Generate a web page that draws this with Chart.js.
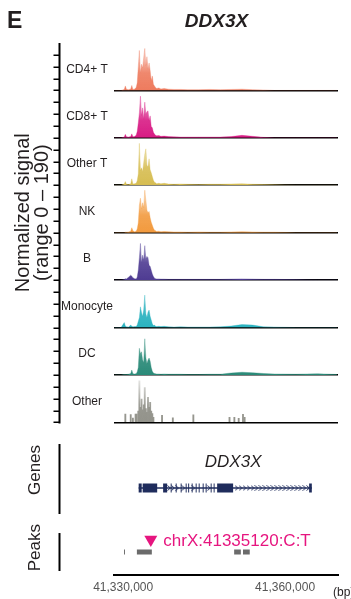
<!DOCTYPE html>
<html>
<head>
<meta charset="utf-8">
<script src="https://cdn.jsdelivr.net/npm/chart.js@4.4.1/dist/chart.umd.min.js"></script>
<style>
  html, body { margin: 0; padding: 0; background: #fff; }
  #wrap { width: 351px; height: 599px; }
</style>
</head>
<body>
<div id="wrap"><canvas id="trackChart" width="351" height="599"></canvas></div>
<script>
// ---- data ----
var geneName = "DDX3X";
var trackNames = ["CD4+ T", "CD8+ T", "Other T", "NK", "B", "Monocyte", "DC", "Other"];
var trackColors = ["#EE7B5E", "#D81B84", "#D6BD52", "#F29A3E", "#4E3B92", "#2BB3C0", "#2A8A78", "#93938B"];
var signalMax = 190;
var xTicks = [41330000, 41360000];

// coverage bins (bp)
var binPos = [
  41328400, 41329000, 41329600, 41330200, 41330400, 41330600, 41331000, 41331400, 41331600, 41331800, 41332100,
  41332400, 41332600, 41332800, 41333000, 41333200, 41333400, 41333600, 41333800, 41334000, 41334200,
  41334400, 41334600, 41334800, 41335000, 41335200, 41335400, 41335600, 41335800, 41336000, 41336200,
  41336600, 41337000, 41337600, 41338400, 41339400, 41340600, 41342000, 41344000, 41346000, 41348000,
  41350000, 41352000, 41354000, 41356000, 41358000, 41362000, 41366000, 41369600
];
var cd4Values = [0, 0, 0, 4, 18, 5, 3, 6, 20, 4, 5,
  12, 30, 95, 160, 70, 105, 90, 130, 168, 100, 135, 85, 110, 80, 40, 58, 25, 18, 12, 8,
  10, 6, 8, 5, 4, 4, 3, 3, 4, 3, 4, 5, 3, 2, 0, 0, 0, 0];
var cd8Values = [0, 0, 0, 3, 14, 4, 3, 5, 16, 4, 5,
  10, 25, 60, 100, 167, 90, 120, 75, 143, 95, 105, 108, 70, 88, 45, 40, 22, 15, 10, 8,
  9, 6, 7, 5, 4, 3, 3, 3, 3, 3, 5, 10, 6, 2, 0, 0, 0, 0];
var otherTValues = [0, 0, 0, 5, 15, 4, 3, 6, 26, 5, 6,
  8, 18, 45, 168, 60, 70, 55, 90, 124, 146, 80, 75, 106, 62, 50, 35, 20, 12, 10, 6,
  8, 6, 8, 5, 4, 5, 4, 3, 4, 4, 5, 6, 4, 3, 2, 0, 0, 0];
var nkValues = [0, 0, 0, 0, 2, 2, 3, 6, 20, 8, 4,
  6, 15, 40, 110, 138, 95, 120, 100, 170, 130, 90, 80, 85, 60, 42, 30, 18, 10, 8, 5,
  6, 4, 5, 4, 3, 3, 2, 3, 2, 2, 3, 4, 3, 2, 2, 0, 0, 0];
var bValues = [0, 0, 0, 3, 6, 5, 12, 20, 16, 10, 6,
  5, 12, 40, 90, 147, 70, 100, 80, 138, 85, 95, 90, 60, 55, 40, 25, 15, 8, 6, 5,
  5, 4, 4, 3, 3, 3, 3, 3, 3, 3, 4, 5, 4, 3, 3, 2, 0, 0];
var monoValues = [0, 0, 0, 20, 6, 3, 2, 10, 5, 3, 4,
  4, 10, 25, 40, 83, 60, 45, 70, 130, 55, 40, 62, 70, 45, 30, 15, 8, 10, 5, 4,
  5, 4, 5, 3, 2, 3, 2, 2, 2, 3, 6, 12, 10, 3, 2, 0, 0, 0];
var dcValues = [0, 0, 0, 2, 2, 2, 3, 6, 20, 5, 4,
  5, 12, 30, 107, 85, 93, 60, 50, 145, 70, 45, 60, 68, 55, 30, 15, 8, 6, 5, 4,
  4, 3, 4, 3, 3, 3, 2, 2, 3, 3, 8, 11, 9, 6, 4, 3, 5, 2];
// "Other" is sparse, so it has its own positions
var otherPos = [41330400, 41331400, 41331800, 41332300, 41332500, 41332800, 41333000, 41333200, 41333400, 41333600,
  41333800, 41334000, 41334200, 41334400, 41334600, 41334800, 41335000, 41335200, 41335400, 41335600,
  41337200, 41339200, 41343000, 41349700, 41350600, 41351400, 41352200, 41352500];
var otherValues = [33, 31, 17, 33, 33, 45, 167, 60, 93, 50,
  70, 140, 55, 40, 100, 60, 80, 45, 35, 20,
  28, 18, 30, 20, 20, 16, 32, 20];

// gene model
var geneStart = 41332870, geneEnd = 41364950;
var exonStarts = [41332870, 41333610, 41337400, 41338800, 41339730, 41340650, 41341580, 41342040, 41342690,
  41343430, 41343990, 41344730, 41345280, 41346210, 41346760, 41347410, 41364450];
var exonEnds = [41333430, 41336300, 41338150, 41338980, 41339910, 41340830, 41341760, 41342220, 41342870,
  41343610, 41344170, 41344910, 41345460, 41346390, 41346940, 41350370, 41364950];
var chevronPos = [41338500, 41339240, 41340000, 41341150, 41343000, 41345870, 41351000, 41351740, 41352480,
  41353220, 41353960, 41354700, 41355440, 41356180, 41356920, 41357660, 41358400, 41359140, 41359880,
  41360620, 41361360, 41362100, 41362840, 41363580, 41364250];

// peaks + variant
var peakStarts = [41330150, 41332540, 41350560, 41352200];
var peakEnds = [41330330, 41335310, 41351800, 41353450];
var variantPos = 41335120;
var variantLabel = "chrX:41335120:C:T";

var trackValues = [cd4Values, cd8Values, otherTValues, nkValues, bValues, monoValues, dcValues];

// ---- helpers ----
var FONT = '"Liberation Sans", Arial, Helvetica, sans-serif';
var navy = "#1F2C5C";
var pink = "#E6157F";

function rgba(hex, a) {
  var n = parseInt(hex.slice(1), 16);
  return "rgba(" + (n >> 16) + "," + ((n >> 8) & 255) + "," + (n & 255) + "," + a + ")";
}

function fade(chart, axisId, hex) {
  var s = chart.scales[axisId];
  if (!s || !chart.chartArea) return hex;
  var g = chart.ctx.createLinearGradient(0, s.getPixelForValue(0), 0, s.getPixelForValue(175));
  g.addColorStop(0, hex);
  g.addColorStop(0.4, rgba(hex, 0.9));
  g.addColorStop(1, rgba(hex, 0.2));
  return g;
}

function segments(starts, ends, level) {
  var out = [];
  for (var i = 0; i < starts.length; i++) {
    out.push({x: starts[i], y: level}, {x: ends[i], y: level}, {x: ends[i], y: null});
  }
  return out;
}

// little ">" glyph for the strand arrows
var chev = document.createElement("canvas");
chev.width = 4; chev.height = 6;
(function () {
  var c = chev.getContext("2d");
  c.strokeStyle = navy; c.lineWidth = 1;
  c.beginPath(); c.moveTo(0.5, 0.5); c.lineTo(3.3, 3); c.lineTo(0.5, 5.5); c.stroke();
})();

var geneLevel = 3.44, peakLevel = 4.37, variantLevel = 6.73;

// ---- scales ----
var scales = {
  x: {
    type: "linear", position: "bottom", min: 41328300, max: 41369800, offset: false,
    afterBuildTicks: function (s) { s.ticks = xTicks.map(function (v) { return {value: v}; }); },
    afterFit: function (s) { s.height = 24; },
    grid: {display: false, drawTicks: false},
    border: {display: true, color: "#000", width: 2},
    ticks: {
      color: "#555", padding: 5, maxRotation: 0, autoSkip: false,
      font: {size: 12, family: FONT},
      callback: function (v) { return Number(v).toLocaleString("en-US"); }
    }
  }
};
trackNames.forEach(function (name, i) {
  scales["y" + i] = {
    type: "linear", position: "left", stack: "tracks", stackWeight: 47.43, weight: 20 - i,
    min: 0, max: signalMax, z: 1,
    afterBuildTicks: function (s) { s.ticks = [{value: 0}]; },
    afterFit: function (s) { s.width = 0; },
    ticks: {display: false},
    border: {display: false},
    grid: {drawTicks: false, color: "#000", lineWidth: 1.6}
  };
});
scales.yg = {
  type: "linear", position: "left", stack: "tracks", stackWeight: 100, weight: 2,
  min: 0, max: 10, afterFit: function (s) { s.width = 0; },
  ticks: {display: false}, border: {display: false}, grid: {display: false}
};
scales.yp = {
  type: "linear", position: "left", stack: "tracks", stackWeight: 52.6, weight: 1,
  min: 0, max: 10, afterFit: function (s) { s.width = 0; },
  ticks: {display: false}, border: {display: false}, grid: {display: false}
};

// ---- datasets ----
var datasets = [];
trackValues.forEach(function (vals, i) {
  var col = trackColors[i], axis = "y" + i;
  datasets.push({
    type: "line", label: trackNames[i], yAxisID: axis,
    data: binPos.map(function (x, k) { return {x: x, y: vals[k]}; }),
    fill: "origin", tension: 0, pointRadius: 0, borderWidth: 0.6,
    borderColor: rgba(col, 0.55),
    backgroundColor: function (ctx) { return fade(ctx.chart, axis, col); }
  });
});
datasets.push({
  type: "bar", label: trackNames[7], yAxisID: "y7",
  data: otherPos.map(function (x, k) { return {x: x, y: otherValues[k]}; }),
  barThickness: 1.2,
  backgroundColor: function (ctx) { return fade(ctx.chart, "y7", trackColors[7]); }
});
datasets.push({
  type: "line", label: "intron", yAxisID: "yg",
  data: [{x: geneStart, y: geneLevel}, {x: geneEnd, y: geneLevel}],
  borderColor: navy, borderWidth: 1.5, pointRadius: 0
});
datasets.push({
  type: "line", label: "strand", yAxisID: "yg", showLine: false,
  data: chevronPos.map(function (x) { return {x: x, y: geneLevel}; }),
  pointStyle: chev, pointRadius: 3
});
datasets.push({
  type: "line", label: "exons", yAxisID: "yg",
  data: segments(exonStarts, exonEnds, geneLevel),
  borderColor: navy, borderWidth: 9, borderCapStyle: "butt", pointRadius: 0, spanGaps: false
});
datasets.push({
  type: "line", label: "peaks", yAxisID: "yp",
  data: segments(peakStarts, peakEnds, peakLevel),
  borderColor: "#6B6B6B", borderWidth: 5, borderCapStyle: "butt", pointRadius: 0, spanGaps: false
});
datasets.push({
  type: "line", label: "variant", yAxisID: "yp", showLine: false,
  data: [{x: variantPos, y: variantLevel}],
  pointStyle: "triangle", rotation: 180, pointRadius: 7.5,
  pointBackgroundColor: pink, pointBorderWidth: 0
});

// ---- decorations: left axes, labels, titles ----
var deco = {
  id: "deco",
  afterDraw: function (chart) {
    var ctx = chart.ctx, s = chart.scales;
    var axX = 59.5;
    ctx.save();
    ctx.fillStyle = "#231F20";
    ctx.strokeStyle = "#000";

    // panel letter + gene title
    ctx.textBaseline = "alphabetic";
    ctx.textAlign = "left";
    ctx.font = "bold 23px " + FONT;
    ctx.fillText("E", 7, 28);
    ctx.textAlign = "center";
    ctx.font = "italic bold 19px " + FONT;
    ctx.fillText(geneName, 216.5, 27);

    // signal axis with 4 ticks per track
    var top = s.y0.top, bottom = s.y7.bottom;
    ctx.lineWidth = 2;
    ctx.beginPath(); ctx.moveTo(axX, top); ctx.lineTo(axX, bottom + 1); ctx.stroke();
    ctx.lineWidth = 1.5;
    trackNames.forEach(function (name, i) {
      var ys = s["y" + i];
      [0, 47.5, 95, 142.5].forEach(function (v) {
        var py = Math.round(ys.getPixelForValue(v)) + 0.25;
        ctx.beginPath(); ctx.moveTo(axX - 6, py); ctx.lineTo(axX, py); ctx.stroke();
      });
      ctx.font = "12px " + FONT;
      ctx.textAlign = "center";
      ctx.textBaseline = "middle";
      ctx.fillText(name, 87, ys.getPixelForValue(85));
    });

    // rotated titles
    function vtext(txt, x, y, size) {
      ctx.save();
      ctx.translate(x, y); ctx.rotate(-Math.PI / 2);
      ctx.font = size + "px " + FONT;
      ctx.textAlign = "center"; ctx.textBaseline = "middle";
      ctx.fillText(txt, 0, 0);
      ctx.restore();
    }
    var mid = (top + bottom) / 2 - 20;
    vtext("Normalized signal", 23, mid, 20);
    vtext("(range 0 \u2013 190)", 42, mid, 20);

    // genes / peaks side bars
    ctx.lineWidth = 2;
    ctx.beginPath(); ctx.moveTo(axX, s.yg.getPixelForValue(7.84)); ctx.lineTo(axX, s.yg.getPixelForValue(0.84)); ctx.stroke();
    ctx.beginPath(); ctx.moveTo(axX, s.yp.getPixelForValue(7.98)); ctx.lineTo(axX, s.yp.getPixelForValue(0.76)); ctx.stroke();
    vtext("Genes", 35, s.yg.getPixelForValue(5.24), 17);
    vtext("Peaks", 35, s.yp.getPixelForValue(5.2), 17);

    // gene name in track
    ctx.font = "italic 17px " + FONT;
    ctx.textAlign = "center"; ctx.textBaseline = "middle";
    ctx.fillText(geneName, s.x.getPixelForValue(41350370), s.yg.getPixelForValue(6.0));

    // variant label
    ctx.fillStyle = pink;
    ctx.font = "17px " + FONT;
    ctx.textAlign = "left"; ctx.textBaseline = "alphabetic";
    ctx.fillText(variantLabel, s.x.getPixelForValue(variantPos) + 12.5, s.yp.getPixelForValue(variantLevel) + 6.5);

    // unit
    ctx.fillStyle = "#231F20";
    ctx.font = "12px " + FONT;
    ctx.fillText("(bp)", 333, 596);
    ctx.restore();
  }
};

new Chart(document.getElementById("trackChart").getContext("2d"), {
  type: "line",
  data: {datasets: datasets},
  options: {
    responsive: false,
    animation: false,
    events: [],
    layout: {padding: {left: 114, right: 13, top: 43, bottom: 0}},
    plugins: {legend: {display: false}, tooltip: {enabled: false}, title: {display: false}},
    scales: scales
  },
  plugins: [deco]
});
</script>
</body>
</html>
